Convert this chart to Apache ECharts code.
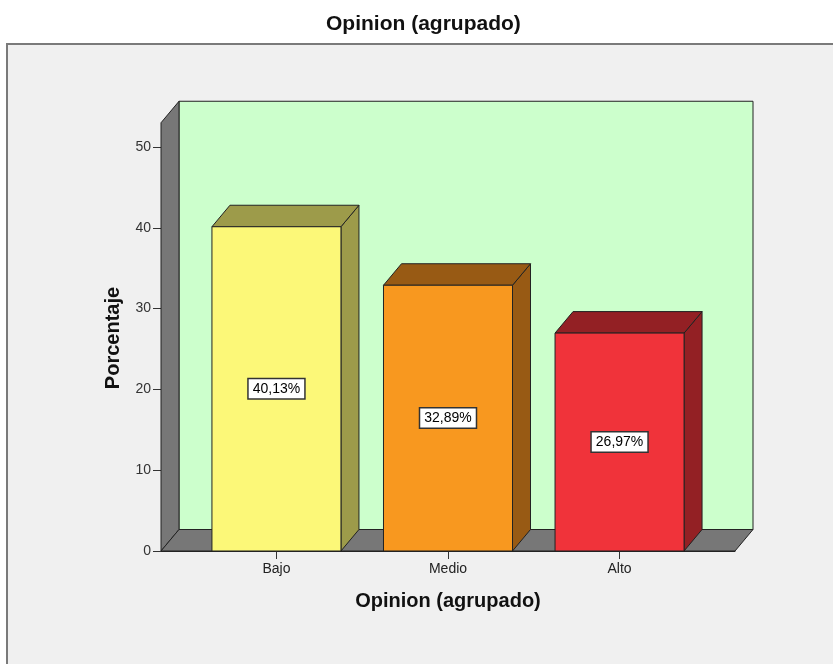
<!DOCTYPE html>
<html>
<head>
<meta charset="utf-8">
<script src="https://cdn.jsdelivr.net/npm/echarts@6/dist/echarts.min.js"></script>
<style>
html,body{margin:0;padding:0;background:#ffffff;}
#chart{width:833px;height:664px;}
</style>
</head>
<body>
<div id="chart"></div>
<script>
// ---- data ----
const categories = ['Bajo', 'Medio', 'Alto'];
const percentages = [40.13, 32.89, 26.97];
const yTickValues = [0, 10, 20, 30, 40, 50];

// ---- styles ----
const frontColors = ['#fcf878', '#f8981f', '#f0333a'];
const shadeColors = ['#9d9b4a', '#985a14', '#932024'];
const wallGreen = '#ccffcc';
const wallGray = '#777777';
const edge = '#222222';
const depthX = 18, depthY = 21.5;
const barWidthUnits = 0.752;
const xMin = -0.673, xMax = 2.673;
const wallTop = 53;

const chart = echarts.init(document.getElementById('chart'), null, {renderer: 'canvas'});

const option = {
  animation: false,
  backgroundColor: '#ffffff',
  textStyle: {fontFamily: 'Liberation Sans'},
  title: {
    text: 'Opinion (agrupado)',
    left: 326,
    top: 14,
    padding: 0,
    textStyle: {fontSize: 21, fontWeight: 'bold', color: '#111', fontFamily: 'Liberation Sans'}
  },
  graphic: [{
    type: 'rect',
    z: -10,
    shape: {x: 7, y: 44, width: 900, height: 700},
    style: {fill: '#f0f0f0', stroke: '#7a7a7a', lineWidth: 2}
  }],
  grid: {left: 161, right: 98, top: 147, bottom: 113, containLabel: false},
  xAxis: {
    type: 'value',
    min: xMin,
    max: xMax,
    splitLine: {show: false},
    axisLine: {show: true, onZero: false, lineStyle: {color: edge, width: 1}},
    axisTick: {show: true, customValues: [0, 1, 2], length: 8, lineStyle: {color: '#333'}},
    axisLabel: {
      customValues: [0, 1, 2],
      formatter: v => categories[Math.round(v)] || '',
      fontSize: 14, color: '#222', margin: 11
    },
    name: 'Opinion (agrupado)',
    nameLocation: 'middle',
    nameGap: 40,
    nameTextStyle: {fontSize: 20, fontWeight: 'bold', color: '#111'}
  },
  yAxis: {
    type: 'value',
    min: 0,
    max: 50,
    interval: 10,
    splitLine: {show: false},
    axisLine: {show: true, onZero: false, lineStyle: {color: edge, width: 1}},
    axisTick: {show: true, length: 8, lineStyle: {color: '#333'}},
    axisLabel: {fontSize: 14, color: '#333', margin: 10, customValues: yTickValues},
    name: 'Porcentaje',
    nameLocation: 'middle',
    nameGap: 38,
    nameTextStyle: {fontSize: 20, fontWeight: 'bold', color: '#111', padding: [0, 0, 0, 22]}
  },
  series: [
    {
      type: 'custom',
      silent: true,
      z: 1,
      data: [[0, 0]],
      renderItem: function (params, api) {
        const fl = api.coord([xMin, 0]);
        const fr = api.coord([xMax, 0]);
        const tl = api.coord([xMin, wallTop]);
        const d = (p) => [p[0] + depthX, p[1] - depthY];
        return {
          type: 'group',
          children: [
            {type: 'rect', shape: {x: fl[0] + depthX, y: tl[1] - depthY, width: fr[0] - fl[0], height: fl[1] - tl[1]},
             style: {fill: wallGreen, stroke: edge, lineWidth: 1}},
            {type: 'polygon', shape: {points: [fl, tl, d(tl), d(fl)]},
             style: {fill: wallGray, stroke: edge, lineWidth: 1}},
            {type: 'polygon', shape: {points: [fl, d(fl), d(fr), fr]},
             style: {fill: wallGray, stroke: edge, lineWidth: 1}}
          ]
        };
      }
    },
    {
      type: 'custom',
      silent: true,
      z: 3,
      data: categories.map((c, i) => [i, percentages[i]]),
      renderItem: function (params, api) {
        const i = api.value(0), v = api.value(1);
        const bl = api.coord([i - barWidthUnits / 2, 0]);
        const br = api.coord([i + barWidthUnits / 2, 0]);
        const tl = api.coord([i - barWidthUnits / 2, v]);
        const tr = api.coord([i + barWidthUnits / 2, v]);
        const d = (p) => [p[0] + depthX, p[1] - depthY];
        const label = v.toFixed(2).replace('.', ',') + '%';
        return {
          type: 'group',
          children: [
            {type: 'polygon', shape: {points: [tr, d(tr), d(br), br]},
             style: {fill: shadeColors[i], stroke: edge, lineWidth: 1}},
            {type: 'polygon', shape: {points: [tl, d(tl), d(tr), tr]},
             style: {fill: shadeColors[i], stroke: edge, lineWidth: 1}},
            {type: 'rect', shape: {x: tl[0], y: tl[1], width: br[0] - tl[0], height: bl[1] - tl[1]},
             style: {fill: frontColors[i], stroke: edge, lineWidth: 1}},
            {type: 'text', x: (tl[0] + tr[0]) / 2, y: (tl[1] + bl[1]) / 2,
             style: {text: label, fill: '#000', fontSize: 14, fontFamily: 'Liberation Sans',
                     align: 'center', verticalAlign: 'middle',
                     backgroundColor: '#ffffff', borderColor: '#333', borderWidth: 1.5, padding: [3, 4, 2, 4]}}
          ]
        };
      }
    }
  ]
};
chart.setOption(option);
</script>
</body>
</html>
